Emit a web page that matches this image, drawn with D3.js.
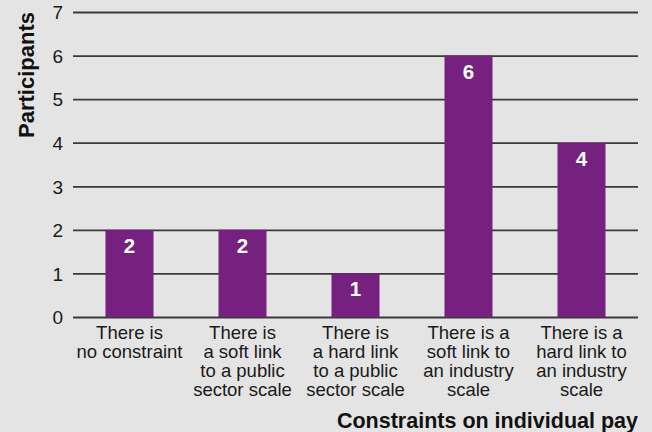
<!DOCTYPE html>
<html>
<head>
<meta charset="utf-8">
<script src="https://cdn.jsdelivr.net/npm/d3@7"></script>
<style>
  html, body { margin: 0; padding: 0; background: #e4e4e4; }
  svg { display: block; font-family: "Liberation Sans", Arial, sans-serif; }
</style>
</head>
<body>
<svg id="chart" width="652" height="432"></svg>
<script>
// Survey responses: constraints on individual pay
const categories = [
  "There is no constraint",
  "There is a soft link to a public sector scale",
  "There is a hard link to a public sector scale",
  "There is a soft link to an industry scale",
  "There is a hard link to an industry scale"
];
const categoryLines = [
  ["There is", "no constraint"],
  ["There is", "a soft link", "to a public", "sector scale"],
  ["There is", "a hard link", "to a public", "sector scale"],
  ["There is a", "soft link to", "an industry", "scale"],
  ["There is a", "hard link to", "an industry", "scale"]
];
const participants = [2, 2, 1, 6, 4];
const yTicks = [0, 1, 2, 3, 4, 5, 6, 7];

const svg = d3.select("#chart");
const W = 652, H = 432;
const margin = { top: 12, right: 14, bottom: 115, left: 73 };

svg.append("rect").attr("width", W).attr("height", H).attr("fill", "#e4e4e4");

const x = d3.scaleBand()
  .domain(categories)
  .range([margin.left, W - margin.right])
  .paddingInner(0.575)
  .paddingOuter(0.2875);

const y = d3.scaleLinear()
  .domain([0, 7])
  .range([H - margin.bottom, margin.top]);

// Horizontal gridlines with tick labels
const yAxis = d3.axisLeft(y)
  .tickValues(yTicks)
  .tickFormat(d3.format("d"))
  .tickSize(-(W - margin.left - margin.right))
  .tickPadding(10);

const gy = svg.append("g")
  .attr("transform", `translate(${margin.left},0)`)
  .call(yAxis);
gy.select(".domain").remove();
gy.selectAll(".tick line")
  .attr("stroke", "#3a3a3a")
  .attr("stroke-width", 1.8);
gy.selectAll(".tick text")
  .attr("fill", "#1a1a1a")
  .style("font-size", "19px")
  .attr("dy", "0.36em");

// Bars
svg.append("g").selectAll("rect")
  .data(participants)
  .join("rect")
  .attr("x", (d, i) => x(categories[i]))
  .attr("y", d => y(d))
  .attr("width", x.bandwidth())
  .attr("height", d => y(0) - y(d))
  .attr("fill", "#76217f");

// Value labels inside bar tops
svg.append("g").selectAll("text")
  .data(participants)
  .join("text")
  .attr("x", (d, i) => x(categories[i]) + x.bandwidth() / 2)
  .attr("y", d => y(d) + 23)
  .attr("text-anchor", "middle")
  .attr("fill", "#ffffff")
  .style("font-size", "20.5px")
  .style("font-weight", "bold")
  .text(d => d);

// Category labels, wrapped over several lines
const xl = svg.append("g").selectAll("text")
  .data(categoryLines)
  .join("text")
  .attr("text-anchor", "middle")
  .attr("fill", "#1a1a1a")
  .style("font-size", "18.5px")
  .attr("transform", (d, i) => `translate(${x(categories[i]) + x.bandwidth() / 2},339)`);
xl.selectAll("tspan")
  .data(d => d)
  .join("tspan")
  .attr("x", 0)
  .attr("y", (d, j) => j * 19)
  .text(d => d);

// Axis titles
svg.append("text")
  .attr("x", W - margin.right)
  .attr("y", 428)
  .attr("text-anchor", "end")
  .attr("fill", "#111")
  .style("font-size", "21.5px")
  .style("font-weight", "bold")
  .text("Constraints on individual pay");

svg.append("text")
  .attr("transform", "translate(34,12) rotate(-90)")
  .attr("text-anchor", "end")
  .attr("fill", "#111")
  .style("font-size", "22px")
  .style("font-weight", "bold")
  .text("Participants");
</script>
</body>
</html>
